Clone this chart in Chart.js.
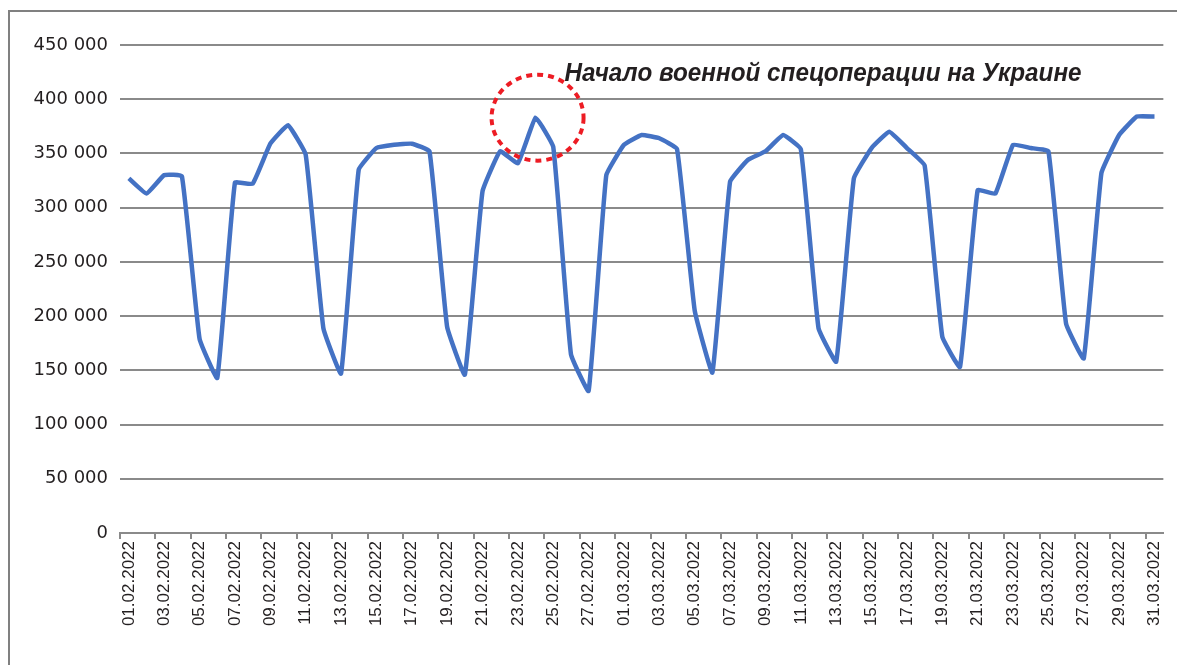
<!DOCTYPE html>
<html>
<head>
<meta charset="utf-8">
<script src="https://cdn.jsdelivr.net/npm/chart.js@4.4.1/dist/chart.umd.min.js"></script>
<style>
  html, body { margin: 0; padding: 0; background: #fff; overflow: hidden; }
  #wrap { position: relative; width: 1177px; height: 665px; overflow: hidden; }
  #frame { position: absolute; left: 8px; top: 10px; width: 1400px; height: 900px; border: 2px solid #808080; }
  #dailyChart { position: absolute; left: 0; top: 0; }
</style>
</head>
<body>
<div id="wrap">
  <div id="frame"></div>
  <canvas id="dailyChart" width="1177" height="665"></canvas>
</div>
<script>
var dayLabels = [
  "01.02.2022", "02.02.2022", "03.02.2022", "04.02.2022", "05.02.2022", "06.02.2022", "07.02.2022",
  "08.02.2022", "09.02.2022", "10.02.2022", "11.02.2022", "12.02.2022", "13.02.2022", "14.02.2022",
  "15.02.2022", "16.02.2022", "17.02.2022", "18.02.2022", "19.02.2022", "20.02.2022", "21.02.2022",
  "22.02.2022", "23.02.2022", "24.02.2022", "25.02.2022", "26.02.2022", "27.02.2022", "28.02.2022",
  "01.03.2022", "02.03.2022", "03.03.2022", "04.03.2022", "05.03.2022", "06.03.2022", "07.03.2022",
  "08.03.2022", "09.03.2022", "10.03.2022", "11.03.2022", "12.03.2022", "13.03.2022", "14.03.2022",
  "15.03.2022", "16.03.2022", "17.03.2022", "18.03.2022", "19.03.2022", "20.03.2022", "21.03.2022",
  "22.03.2022", "23.03.2022", "24.03.2022", "25.03.2022", "26.03.2022", "27.03.2022", "28.03.2022",
  "29.03.2022", "30.03.2022", "31.03.2022"
];

var dailyValues = [
  327000, 313000, 330000, 329000, 179000, 143000, 323000,
  322000, 359000, 376000, 349000, 189000, 147000, 335000,
  355000, 358000, 359000, 352000, 190000, 146000, 315000,
  352000, 341000, 383000, 356000, 165000, 131000, 330000,
  358000, 367000, 364000, 354000, 205000, 148000, 324000,
  344000, 352000, 367000, 354000, 189000, 158000, 327000,
  355000, 370000, 355000, 339000, 181000, 153000, 316000,
  313000, 358000, 355000, 352000, 193000, 161000, 332000,
  367000, 384000, 384000
];

var yTicks = [0, 50000, 100000, 150000, 200000, 250000, 300000, 350000, 400000, 450000];

var eventIndex = 23; // 24.02.2022
var eventText = "Начало военной спецоперации на Украине";

function spaced(v) {
  return String(v).replace(/\B(?=(\d{3})+(?!\d))/g, " ");
}

// red dotted ring + caption
var eventNote = {
  id: "eventNote",
  afterDatasetsDraw: function (chart) {
    var ctx = chart.ctx;
    var x = chart.scales.x, y = chart.scales.y;
    var cx = x.getPixelForValue(eventIndex) + 2;
    var cy = y.getPixelForValue(dailyValues[eventIndex]);
    ctx.save();
    ctx.strokeStyle = "#ed1c24";
    ctx.lineWidth = 4;
    ctx.setLineDash([6, 5]);
    ctx.beginPath();
    ctx.ellipse(cx, cy, 46, 43, 0, 0, Math.PI * 2);
    ctx.stroke();

    ctx.setLineDash([]);
    ctx.font = "italic bold 25px 'Liberation Sans', Arial, sans-serif";
    ctx.fillStyle = "#231f20";
    ctx.textBaseline = "alphabetic";
    var w = ctx.measureText(eventText).width;
    ctx.translate(cx + 27, y.getPixelForValue(yTicks[8]) - 18);
    ctx.scale(517 / w, 1);
    ctx.fillText(eventText, 0, 0);
    ctx.restore();
  }
};

var dailyChart = new Chart(document.getElementById("dailyChart"), {
  type: "line",
  data: {
    labels: dayLabels,
    datasets: [{
      data: dailyValues,
      borderColor: "#4472c4",
      borderWidth: 4.5,
      pointRadius: 0,
      tension: 0.1,
      fill: false
    }]
  },
  options: {
    responsive: false,
    animation: false,
    layout: { padding: { left: 33, right: 12, top: 45, bottom: 0 } },
    plugins: {
      legend: { display: false },
      tooltip: { enabled: false }
    },
    scales: {
      x: {
        offset: true,
        afterFit: function (s) { s.height = 132; },
        grid: {
          offset: true,
          drawOnChartArea: false,
          drawTicks: true,
          tickLength: 6,
          lineWidth: 2,
          color: function (c) { return c.index % 2 === 0 ? "#8a8a8a" : "rgba(0,0,0,0)"; }
        },
        border: { display: true, color: "#8a8a8a", width: 2 },
        ticks: {
          autoSkip: false,
          minRotation: 90,
          maxRotation: 90,
          padding: 2,
          color: "#231f20",
          font: { family: "'Liberation Sans', Arial, sans-serif", size: 17 },
          callback: function (v, i) { return i % 2 === 0 ? dayLabels[i] : ""; }
        }
      },
      y: {
        min: 0,
        max: 450000,
        afterFit: function (s) { s.width = 87; },
        afterBuildTicks: function (s) { s.ticks = yTicks.map(function (v) { return { value: v }; }); },
        grid: { color: "#8a8a8a", lineWidth: 2, drawTicks: false },
        border: { display: false },
        ticks: {
          padding: 12,
          color: "#231f20",
          font: { family: "'DejaVu Sans', sans-serif", size: 18 },
          callback: function (v) { return spaced(v); }
        }
      }
    }
  },
  plugins: [eventNote]
});
</script>
</body>
</html>
